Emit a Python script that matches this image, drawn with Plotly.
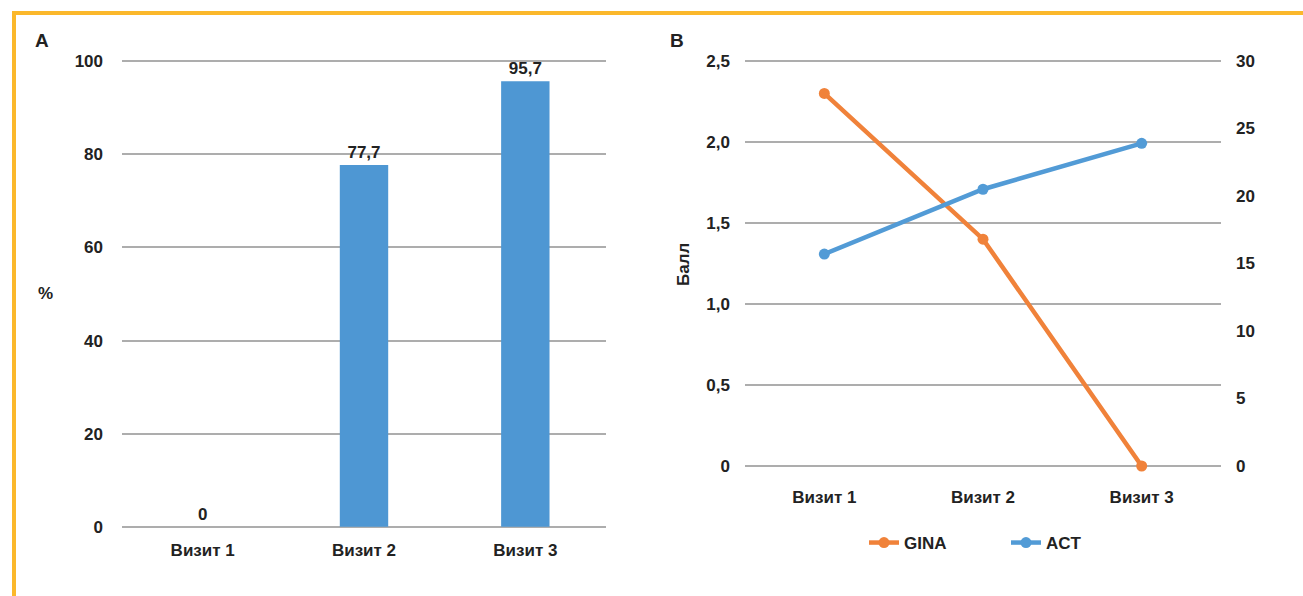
import plotly.graph_objects as go

visits = ["Визит 1", "Визит 2", "Визит 3"]
pct_values = [0, 77.7, 95.7]
pct_labels = ["0", "77,7", "95,7"]
gina = [2.3, 1.4, 0.0]
act = [15.7, 20.5, 23.9]

left_ticks_a = [0, 20, 40, 60, 80, 100]
left_ticks_b = [0, 0.5, 1.0, 1.5, 2.0, 2.5]
left_ticktext_b = ["0", "0,5", "1,0", "1,5", "2,0", "2,5"]
right_ticks_b = [0, 5, 10, 15, 20, 25, 30]

W, H = 1303, 596
FONT = "Liberation Sans Narrow, Arial Narrow, Liberation Sans, Arial, sans-serif"
TXT = "#222222"
GRID = "#ADADAD"
ORANGE = "#F0823A"
BLUE = "#529BD6"
BARBLUE = "#4E97D3"

def px(x):
    return x / W

def py(y):
    return 1 - y / H

fig = go.Figure()

fig.add_trace(go.Bar(
    x=visits, y=pct_values, text=pct_labels, textposition="outside",
    marker=dict(color=BARBLUE, line=dict(width=0)), xaxis="x", yaxis="y", showlegend=False,
    textfont=dict(size=17, color=TXT), cliponaxis=False,
))

fig.add_trace(go.Scatter(
    x=visits, y=gina, mode="lines+markers", name="GINA",
    line=dict(color=ORANGE, width=4.5), marker=dict(size=11, color=ORANGE),
    xaxis="x2", yaxis="y2", cliponaxis=False,
))
fig.add_trace(go.Scatter(
    x=visits, y=act, mode="lines+markers", name="ACT",
    line=dict(color=BLUE, width=4.5), marker=dict(size=11, color=BLUE),
    xaxis="x2", yaxis="y3", cliponaxis=False,
))

axis_font = dict(size=17, color=TXT)
ea = 0.25  # tiny range padding so the edge gridlines are drawn

fig.update_layout(
    width=W, height=H,
    margin=dict(l=0, r=0, t=0, b=0),
    paper_bgcolor="white", plot_bgcolor="white",
    font=dict(family=FONT, size=17, color=TXT, weight="bold"),
    bargap=0.7,
    xaxis=dict(domain=[px(122), px(606)], range=[-0.5, 2.5], showgrid=False,
               showline=False, zeroline=False, tickfont=axis_font,
               ticks="", ticklabelstandoff=10, automargin=False, anchor="y"),
    yaxis=dict(domain=[py(527 + 1), py(61 - 1)], range=[-ea, 100 + ea], tickvals=left_ticks_a,
               showgrid=True, gridcolor=GRID, gridwidth=2, zeroline=False,
               showline=False, tickfont=axis_font, ticklabelstandoff=18,
               automargin=False, anchor="x"),
    xaxis2=dict(domain=[px(745), px(1221)], range=[-0.5, 2.5], showgrid=False,
                showline=False, zeroline=False, tickfont=axis_font,
                ticks="", ticklabelstandoff=18, automargin=False, anchor="y2"),
    yaxis2=dict(domain=[py(466 + 1), py(61 - 1)], range=[-0.00625, 2.50625], tickvals=left_ticks_b,
                ticktext=left_ticktext_b, showgrid=True, gridcolor=GRID, gridwidth=2,
                zeroline=False, showline=False, tickfont=axis_font,
                ticklabelstandoff=14, automargin=False, anchor="x2"),
    yaxis3=dict(overlaying="y2", side="right", range=[-0.075, 30.075], tickvals=right_ticks_b,
                showgrid=False, zeroline=False, showline=False, tickfont=axis_font,
                ticklabelstandoff=14, automargin=False, anchor="x2"),
    legend=dict(orientation="h", x=px(864), xanchor="left", y=py(543), yanchor="middle",
                font=dict(size=17, color=TXT), bgcolor="rgba(0,0,0,0)",
                itemwidth=30, entrywidth=97, tracegroupgap=0),
    showlegend=True,
    annotations=[
        dict(text="A", x=px(42), y=py(40), xref="paper", yref="paper", showarrow=False,
             xanchor="center", yanchor="middle", font=dict(size=19, color=TXT)),
        dict(text="B", x=px(677), y=py(40), xref="paper", yref="paper", showarrow=False,
             xanchor="center", yanchor="middle", font=dict(size=19, color=TXT)),
        dict(text="%", x=px(45), y=py(293), xref="paper", yref="paper", showarrow=False,
             xanchor="center", yanchor="middle", font=dict(size=17, color=TXT)),
        dict(text="Балл", x=px(683), y=py(265), xref="paper", yref="paper", showarrow=False,
             xanchor="center", yanchor="middle", textangle=-90, font=dict(size=17, color=TXT)),
    ],
    shapes=[
        dict(type="line", xref="paper", yref="paper", x0=px(12), x1=1, y0=py(13), y1=py(13),
             line=dict(color="#FBB82B", width=4)),
        dict(type="line", xref="paper", yref="paper", x0=px(14), x1=px(14), y0=py(11), y1=0,
             line=dict(color="#FBB82B", width=4)),
    ],
    separators=", ",
)

fig.write_html("out.html")
